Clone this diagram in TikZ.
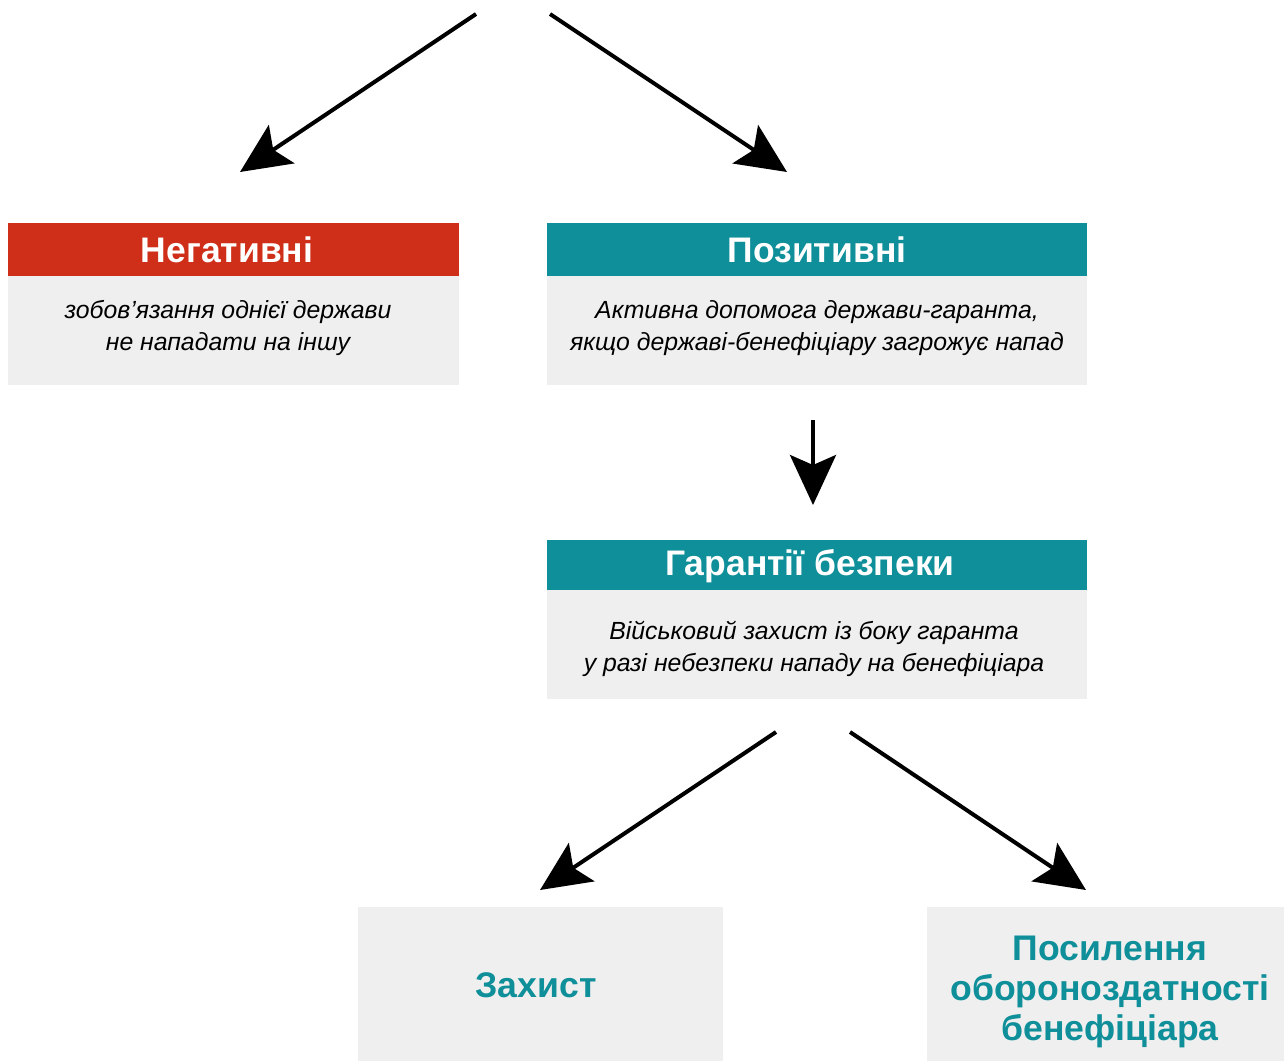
\documentclass[tikz,border=0pt]{standalone}
\usepackage{fontspec}
\setmainfont{Liberation Sans}
\usetikzlibrary{arrows.meta}
\definecolor{negred}{HTML}{CF2E18}
\definecolor{posteal}{HTML}{0F8F99}
\definecolor{boxgrey}{HTML}{EFEFEF}
\tikzset{
  panel/.style={rectangle, inner sep=0pt, draw=none},
  headtxt/.style={inner sep=0pt, text=white, font=\fontsize{35.5}{40}\selectfont\bfseries, align=center},
  bodytxt/.style={inner sep=0pt, text=black, font=\fontsize{24.8}{32}\selectfont\itshape, align=center},
  endtxt/.style={inner sep=0pt, text=posteal, font=\fontsize{35.6}{40}\selectfont\bfseries, align=center},
  bigarrow/.style={line width=4pt, -{Stealth[length=50pt, width=46pt, inset=10pt]}}
}
\begin{document}
\begin{tikzpicture}[x=1pt, y=-1pt]
\useasboundingbox (0,0) rectangle (1284,1061);
% panels
\node[panel, fill=boxgrey, minimum width=451pt, minimum height=109pt] (negbody) at (233.5,330.5) {};
\node[panel, fill=negred, minimum width=451pt, minimum height=53pt] (neghead) at (233.5,249.5) {};
\node[panel, fill=boxgrey, minimum width=540pt, minimum height=109pt] (posbody) at (817,330.5) {};
\node[panel, fill=posteal, minimum width=540pt, minimum height=53pt] (poshead) at (817,249.5) {};
\node[panel, fill=boxgrey, minimum width=540pt, minimum height=109pt] (garbody) at (817,644.5) {};
\node[panel, fill=posteal, minimum width=540pt, minimum height=50pt] (garhead) at (817,565) {};
\node[panel, fill=boxgrey, minimum width=365pt, minimum height=154pt] (zakh) at (540.5,984) {};
\node[panel, fill=boxgrey, minimum width=357pt, minimum height=154pt] (posyl) at (1105.5,984) {};
% texts
\node[headtxt] (negheadtxt) at (227,249.5) {Негативні};
\node[bodytxt] (negbodytxt) at (228,328) {зобов’язання однієї держави\\не нападати на іншу};
\node[headtxt] (posheadtxt) at (817,249.5) {Позитивні};
\node[bodytxt] (posbodytxt) at (817,328) {Активна допомога держави-гаранта,\\якщо державі-бенефіціару загрожує напад};
\node[headtxt] (garheadtxt) at (810,566.5) {Гарантії безпеки};
\node[bodytxt] (garbodytxt) at (814,649) {Військовий захист із боку гаранта\\у разі небезпеки нападу на бенефіціара};
\node[endtxt] (zakhtxt) at (536,985) {Захист};
\node[endtxt] (posyltxt) at (1110,992) {Посилення\\обороноздатності\\бенефіціара};
% arrow end points
\coordinate (a1s) at (476,14);
\coordinate (a1e) at (240,172);
\coordinate (a2s) at (550,14);
\coordinate (a2e) at (787,172);
\coordinate (a3s) at (813,420);
\coordinate (a3e) at (813,505);
\coordinate (a4s) at (776,732);
\coordinate (a4e) at (540,890);
\coordinate (a5s) at (850,732);
\coordinate (a5e) at (1086,890);
\draw[bigarrow] (a1s) -- (a1e);
\draw[bigarrow] (a2s) -- (a2e);
\draw[bigarrow] (a3s) -- (a3e);
\draw[bigarrow] (a4s) -- (a4e);
\draw[bigarrow] (a5s) -- (a5e);
\end{tikzpicture}
\end{document}
